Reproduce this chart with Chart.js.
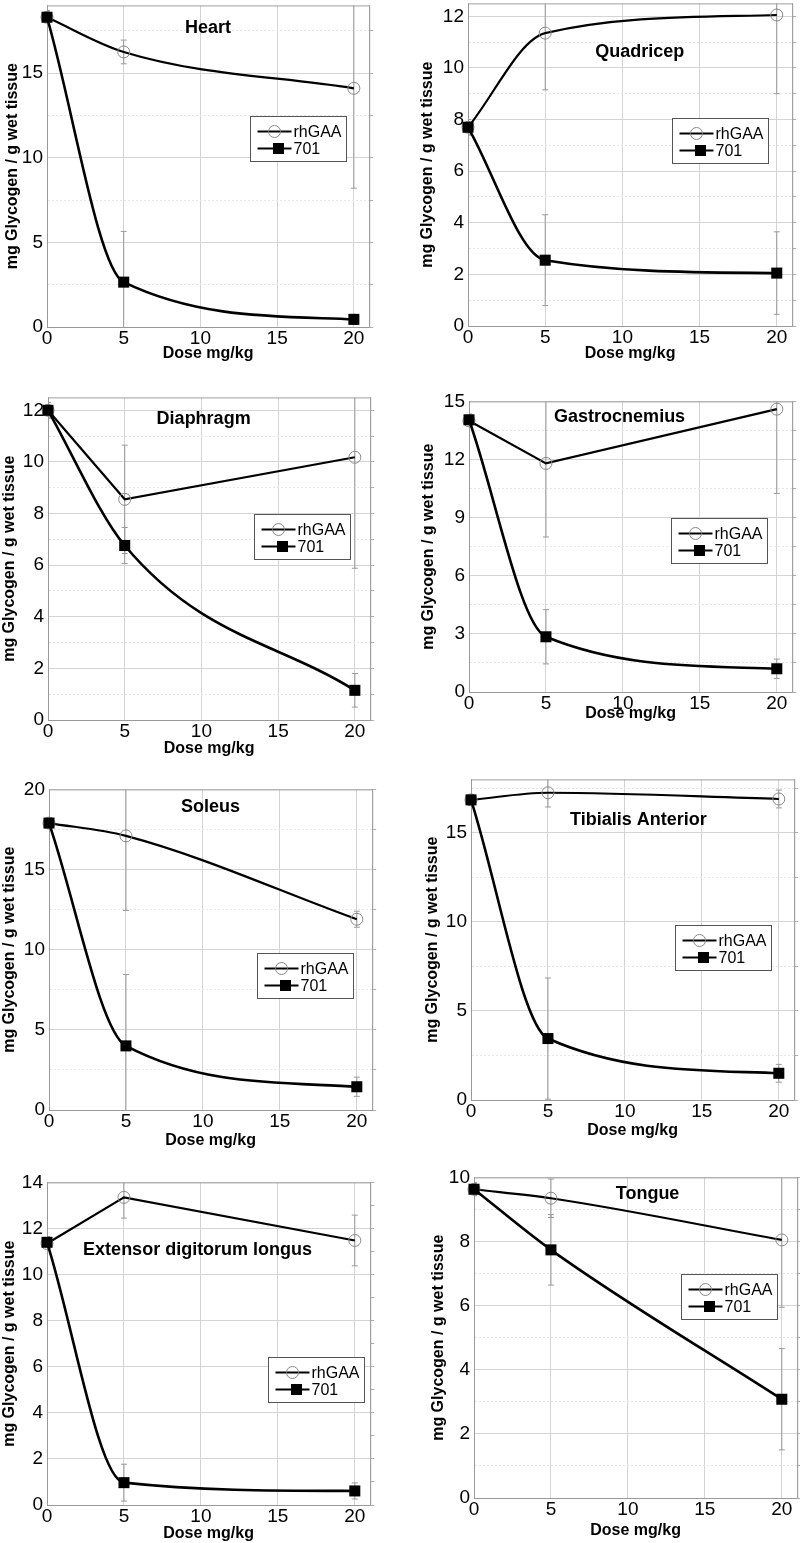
<!DOCTYPE html>
<html>
<head>
<meta charset="utf-8">
<script src="https://cdn.jsdelivr.net/npm/chart.js@4.4.1/dist/chart.umd.min.js"></script>
<style>
  html, body { margin: 0; padding: 0; background: #fff; overflow: hidden; }
  body { position: relative; width: 800px; height: 1543px; }
  canvas { position: absolute; }
</style>
</head>
<body>
<canvas id="c0"></canvas><canvas id="c1"></canvas>
<canvas id="c2"></canvas><canvas id="c3"></canvas>
<canvas id="c4"></canvas><canvas id="c5"></canvas>
<canvas id="c6"></canvas><canvas id="c7"></canvas>
<script>
// dose groups (mg/kg)
const doses = [0, 5, 20];
const xTicks = [0, 5, 10, 15, 20];

// mg glycogen / g wet tissue, mean and error
const heartRh = [18.3, 16.25, 14.1];
const heartRhErr = [0.4, 0.7, 5.9];
const heart701 = [18.3, 2.65, 0.45];
const heart701Err = [0.4, 3.0, 0.3];

const quadRh = [7.7, 11.35, 12.05];
const quadRhErr = [0.3, 2.2, 3.05];
const quad701 = [7.7, 2.55, 2.05];
const quad701Err = [0.3, 1.76, 1.6];

const diaRh = [12.0, 8.55, 10.18];
const diaRhErr = [0.3, 2.1, 4.3];
const dia701 = [12.0, 6.76, 1.15];
const dia701Err = [0.3, 0.7, 0.65];

const gastroRh = [14.0, 11.8, 14.6];
const gastroRhErr = [0.3, 3.8, 4.35];
const gastro701 = [14.05, 2.85, 1.2];
const gastro701Err = [0.3, 1.4, 0.5];

const soleusRh = [17.9, 17.1, 11.9];
const soleusRhErr = [0.3, 4.65, 0.5];
const soleus701 = [17.9, 4.0, 1.45];
const soleus701Err = [0.3, 4.45, 0.6];

const tibRh = [16.85, 17.25, 16.9];
const tibRhErr = [0.3, 0.8, 0.5];
const tib701 = [16.85, 3.45, 1.5];
const tib701Err = [0.3, 3.4, 0.5];

const edlRh = [11.35, 13.35, 11.48];
const edlRhErr = [0.3, 0.9, 1.1];
const edl701 = [11.4, 0.97, 0.61];
const edl701Err = [0.2, 0.8, 0.35];

const tongueRh = [9.63, 9.35, 8.05];
const tongueRhErr = [0.2, 0.6, 2.1];
const tongue701 = [9.63, 7.74, 3.08];
const tongue701Err = [0.2, 1.1, 1.58];

// y tick labels (major) and unlabelled minor grid
const ticks5 = [0, 5, 10, 15, 20];
const minor5 = [2.5, 7.5, 12.5, 17.5];
const ticks2 = [0, 2, 4, 6, 8, 10, 12, 14];
const minor2 = [1, 3, 5, 7, 9, 11, 13];
const ticks3 = [0, 3, 6, 9, 12, 15];
const minor3 = [1.5, 4.5, 7.5, 10.5, 13.5];

const panels = [
  { title: 'Heart', rh: heartRh, rhErr: heartRhErr, d: heart701, dErr: heart701Err, yMax: 19, yt: ticks5, ym: minor5, rhCurve: true,
    col: 0, top: 2, bottom: 327, left: 47, right: 372, tx: 0.5, ty: 0.07, lx: 0.63, ly: 0.345, yTitle: 13, xTitle: 26 },
  { title: 'Quadricep', rh: quadRh, rhErr: quadRhErr, d: quad701, dErr: quad701Err, yMax: 12.5, yt: ticks2, ym: minor2, rhCurve: true,
    col: 1, top: 0, bottom: 326, left: 468, right: 795, tx: 0.53, ty: 0.15, lx: 0.63, ly: 0.356, yTitle: 28, xTitle: 27 },
  { title: 'Diaphragm', rh: diaRh, rhErr: diaRhErr, d: dia701, dErr: dia701Err, yMax: 12.5, yt: ticks2, ym: minor2, rhCurve: false,
    col: 0, top: 394, bottom: 720, left: 48, right: 373, tx: 0.483, ty: 0.067, lx: 0.64, ly: 0.362, yTitle: 9, xTitle: 28 },
  { title: 'Gastrocnemius', rh: gastroRh, rhErr: gastroRhErr, d: gastro701, dErr: gastro701Err, yMax: 15, yt: ticks3, ym: minor3, rhCurve: false,
    col: 1, top: 398, bottom: 692, left: 469, right: 795, tx: 0.466, ty: 0.055, lx: 0.626, ly: 0.40, yTitle: 29, xTitle: 21 },
  { title: 'Soleus', rh: soleusRh, rhErr: soleusRhErr, d: soleus701, dErr: soleus701Err, yMax: 20, yt: ticks5, ym: minor5, rhCurve: true,
    col: 0, top: 786, bottom: 1110, left: 49, right: 375, tx: 0.5, ty: 0.055, lx: 0.644, ly: 0.51, yTitle: 9, xTitle: 30 },
  { title: 'Tibialis Anterior', rh: tibRh, rhErr: tibRhErr, d: tib701, dErr: tib701Err, yMax: 18, yt: ticks5, ym: minor5, rhCurve: true,
    col: 1, top: 776, bottom: 1100, left: 471, right: 797, tx: 0.518, ty: 0.127, lx: 0.632, ly: 0.454, yTitle: 33, xTitle: 30 },
  { title: 'Extensor digitorum longus', rh: edlRh, rhErr: edlRhErr, d: edl701, dErr: edl701Err, yMax: 14, yt: ticks2, ym: minor2, rhCurve: false,
    col: 0, top: 1179, bottom: 1505, left: 47, right: 373, tx: 0.466, ty: 0.209, lx: 0.684, ly: 0.54, yTitle: 9.5, xTitle: 28 },
  { title: 'Tongue', rh: tongueRh, rhErr: tongueRhErr, d: tongue701, dErr: tongue701Err, yMax: 10, yt: ticks2, ym: minor2, rhCurve: true,
    col: 1, top: 1174, bottom: 1498, left: 474, right: 800, tx: 0.537, ty: 0.052, lx: 0.641, ly: 0.30, yTitle: 38.7, xTitle: 32 }
];

Chart.defaults.font.family = '"Liberation Sans", Arial, sans-serif';
Chart.defaults.color = '#000';

// error bars, under the lines
const errorBars = {
  id: 'errorBars',
  beforeDatasetsDraw(chart) {
    const ctx = chart.ctx, a = chart.chartArea, ys = chart.scales.y;
    ctx.save();
    ctx.beginPath();
    ctx.rect(a.left, a.top, a.right - a.left, a.bottom - a.top);
    ctx.clip();
    ctx.strokeStyle = '#9a9a9a';
    ctx.lineWidth = 1;
    chart.data.datasets.forEach((ds, i) => {
      const meta = chart.getDatasetMeta(i);
      meta.data.forEach((pt, j) => {
        const v = ds.data[j].y, e = ds.errors[j];
        const y1 = ys.getPixelForValue(v + e), y2 = ys.getPixelForValue(v - e);
        ctx.beginPath();
        ctx.moveTo(pt.x, y1); ctx.lineTo(pt.x, y2);
        ctx.moveTo(pt.x - 3, y1); ctx.lineTo(pt.x + 3, y1);
        ctx.moveTo(pt.x - 3, y2); ctx.lineTo(pt.x + 3, y2);
        ctx.stroke();
      });
    });
    ctx.restore();
    // frame top and right
    ctx.save();
    ctx.strokeStyle = '#a0a0a0';
    ctx.lineWidth = 1;
    ctx.beginPath();
    ctx.moveTo(a.left, a.top + 0.5); ctx.lineTo(a.right + 0.5, a.top + 0.5); ctx.lineTo(a.right + 0.5, a.bottom);
    ctx.stroke();
    ctx.restore();
  }
};

// panel title and boxed legend inside the plot
const decor = {
  id: 'decor',
  afterDatasetsDraw(chart, args, opts) {
    const ctx = chart.ctx, a = chart.chartArea;
    const w = a.right - a.left, h = a.bottom - a.top;
    ctx.save();
    ctx.font = 'bold 18px "Liberation Sans", Arial, sans-serif';
    ctx.fillStyle = '#000';
    ctx.textAlign = 'center';
    ctx.textBaseline = 'middle';
    ctx.fillText(opts.title, a.left + opts.tx * w, a.top + opts.ty * h);

    const bx = Math.round(a.left + opts.lx * w) + 0.5, by = Math.round(a.top + opts.ly * h) + 0.5;
    ctx.fillStyle = '#fff';
    ctx.fillRect(bx, by, 96, 45);
    ctx.strokeStyle = '#555';
    ctx.lineWidth = 1;
    ctx.strokeRect(bx, by, 96, 45);
    ctx.strokeStyle = '#000';
    ctx.lineWidth = 1.8;
    [15, 32].forEach(r => {
      ctx.beginPath(); ctx.moveTo(bx + 7, by + r); ctx.lineTo(bx + 41, by + r); ctx.stroke();
    });
    ctx.strokeStyle = '#888';
    ctx.lineWidth = 1;
    ctx.beginPath(); ctx.arc(bx + 24, by + 15, 6, 0, Math.PI * 2); ctx.stroke();
    ctx.fillStyle = '#000';
    ctx.fillRect(bx + 22.5, by + 26.5, 11, 11);
    ctx.font = '16px "Liberation Sans", Arial, sans-serif';
    ctx.textAlign = 'left';
    ctx.fillText('rhGAA', bx + 43, by + 16);
    ctx.fillText('701', bx + 43, by + 33);
    ctx.restore();
  }
};

panels.forEach((p, i) => {
  const cv = document.getElementById('c' + i);
  const colX = p.col ? 400 : 0;
  const padTop = 12;
  const xH = p.xTitle + 10;
  const w = p.right + 5 - colX;
  const h = padTop + (p.bottom - p.top) + xH;
  cv.width = w; cv.height = h;
  cv.style.width = w + 'px'; cv.style.height = h + 'px';
  cv.style.left = colX + 'px'; cv.style.top = (p.top - padTop) + 'px';

  const yAll = p.yt.concat(p.ym).filter(v => v <= p.yMax).sort((a, b) => a - b);
  const isMinor = v => p.ym.includes(v);

  new Chart(cv, {
    type: 'line',
    data: {
      datasets: [
        {
          label: 'rhGAA',
          data: doses.map((x, j) => ({ x: x, y: p.rh[j] })),
          errors: p.rhErr,
          borderColor: '#000',
          borderWidth: 2.2,
          tension: p.rhCurve ? 0.4 : 0,
          cubicInterpolationMode: p.rhCurve ? 'monotone' : 'default',
          pointStyle: 'circle',
          pointRadius: 6,
          pointBorderColor: '#888',
          pointBorderWidth: 1,
          pointBackgroundColor: 'rgba(0,0,0,0)',
          clip: false,
          order: 1
        },
        {
          label: '701',
          data: doses.map((x, j) => ({ x: x, y: p.d[j] })),
          errors: p.dErr,
          borderColor: '#000',
          borderWidth: 2.6,
          tension: 0.4,
          cubicInterpolationMode: 'monotone',
          pointStyle: 'rect',
          pointRadius: 7.8,
          pointBorderWidth: 0,
          pointBorderColor: '#000',
          pointBackgroundColor: '#000',
          clip: false,
          order: 0
        }
      ]
    },
    options: {
      responsive: false,
      animation: false,
      events: [],
      layout: { padding: { top: padTop, left: 0, right: 0, bottom: 0 } },
      plugins: {
        legend: { display: false },
        tooltip: { enabled: false },
        decor: { title: p.title, tx: p.tx, ty: p.ty, lx: p.lx, ly: p.ly }
      },
      scales: {
        x: {
          type: 'linear',
          min: 0,
          max: 21,
          afterBuildTicks: s => { s.ticks = xTicks.map(v => ({ value: v })); },
          afterFit: s => { s.height = xH; },
          ticks: { font: { size: 19 }, padding: 0, maxRotation: 0 },
          grid: { color: '#d4d4d4', drawTicks: false },
          border: { color: '#999' },
          title: { display: true, text: 'Dose mg/kg', font: { size: 16, weight: 'bold' }, padding: 0 }
        },
        y: {
          type: 'linear',
          min: 0,
          max: p.yMax,
          afterBuildTicks: s => { s.ticks = yAll.map(v => ({ value: v })); },
          afterFit: s => { s.width = p.left - colX; },
          ticks: { font: { size: 19 }, padding: 4, callback: v => (isMinor(v) ? '' : v) },
          grid: {
            drawTicks: false,
            color: c => (c.tick && isMinor(c.tick.value) ? '#e6e6e6' : '#d4d4d4')
          },
          border: {
            color: '#999',
            dash: c => (c.tick && isMinor(c.tick.value) ? [2, 2] : [])
          },
          title: {
            display: true,
            text: 'mg Glycogen / g wet tissue',
            font: { size: 16, weight: 'bold' },
            padding: { top: Math.max(0, p.yTitle - 9.6), bottom: 0 }
          }
        },
        yr: {
          type: 'linear',
          position: 'right',
          min: 0,
          max: p.yMax,
          afterBuildTicks: s => { s.ticks = yAll.map(v => ({ value: v })); },
          afterFit: s => { s.width = 5; },
          ticks: { display: false },
          grid: { drawOnChartArea: false, drawTicks: true, tickLength: 4, color: '#b0b0b0' },
          border: { color: '#a0a0a0' }
        }
      }
    },
    plugins: [errorBars, decor]
  });
});
</script>
</body>
</html>
